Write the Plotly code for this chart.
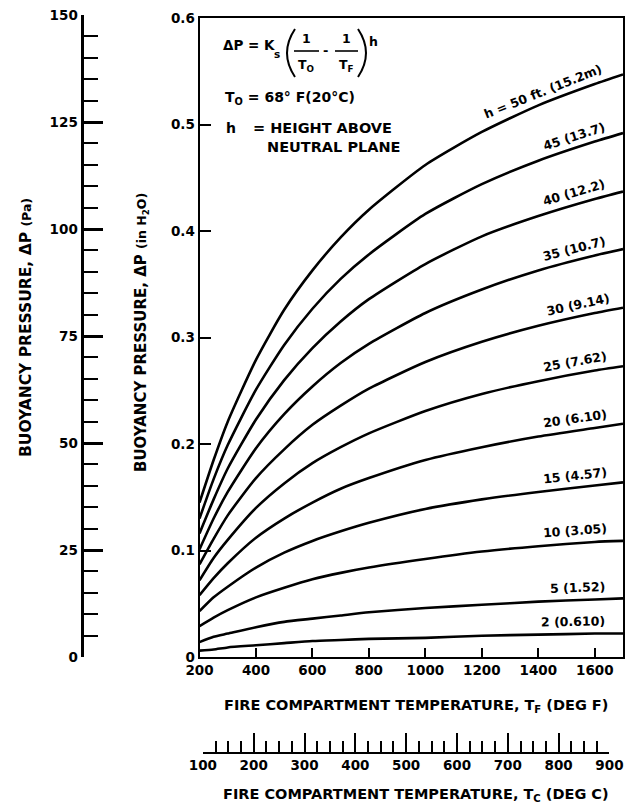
import numpy as np
import plotly.graph_objects as go

W, H = 627, 805

# ---------------- data ----------------
temps_f = [200, 250, 300, 400, 500, 600, 700, 800, 1000, 1200, 1400, 1600, 1700]
heights_ft = [2, 5, 10, 15, 20, 25, 30, 35, 40, 45, 50]
curve_labels = ["2 (0.610)", "5 (1.52)", "10 (3.05)", "15 (4.57)", "20 (6.10)",
                "25 (7.62)", "30 (9.14)", "35 (10.7)", "40 (12.2)", "45 (13.7)",
                "h = 50 ft. (15.2m)"]

dp_h2  = [0.006, 0.007, 0.009, 0.011, 0.013, 0.015, 0.016, 0.017, 0.018, 0.020, 0.021, 0.022, 0.022]
dp_h5  = [0.014, 0.019, 0.022, 0.028, 0.033, 0.036, 0.039, 0.042, 0.046, 0.049, 0.052, 0.054, 0.055]
dp_h10 = [0.029, 0.037, 0.044, 0.056, 0.065, 0.073, 0.079, 0.084, 0.092, 0.099, 0.104, 0.108, 0.109]
dp_h15 = [0.043, 0.056, 0.066, 0.084, 0.098, 0.109, 0.118, 0.126, 0.139, 0.148, 0.155, 0.161, 0.164]
dp_h20 = [0.058, 0.074, 0.088, 0.112, 0.130, 0.145, 0.158, 0.168, 0.185, 0.197, 0.207, 0.215, 0.219]
dp_h25 = [0.072, 0.093, 0.110, 0.140, 0.163, 0.182, 0.197, 0.210, 0.231, 0.247, 0.259, 0.269, 0.273]
dp_h30 = [0.087, 0.111, 0.133, 0.168, 0.195, 0.218, 0.236, 0.252, 0.277, 0.296, 0.311, 0.323, 0.328]
dp_h35 = [0.101, 0.130, 0.155, 0.196, 0.228, 0.254, 0.276, 0.294, 0.323, 0.345, 0.363, 0.377, 0.383]
dp_h40 = [0.116, 0.148, 0.177, 0.223, 0.260, 0.290, 0.315, 0.336, 0.369, 0.395, 0.414, 0.430, 0.437]
dp_h45 = [0.130, 0.167, 0.199, 0.251, 0.293, 0.327, 0.355, 0.378, 0.416, 0.444, 0.466, 0.484, 0.492]
dp_h50 = [0.145, 0.185, 0.221, 0.279, 0.326, 0.363, 0.394, 0.420, 0.462, 0.493, 0.518, 0.538, 0.547]
curves = [dp_h2, dp_h5, dp_h10, dp_h15, dp_h20, dp_h25, dp_h30, dp_h35, dp_h40, dp_h45, dp_h50]

f_ticks = [200, 400, 600, 800, 1000, 1200, 1400, 1600]
in_ticks = [0, 0.1, 0.2, 0.3, 0.4, 0.5, 0.6]
in_ticktext = ["0", "0.1", "0.2", "0.3", "0.4", "0.5", "0.6"]
pa_ticks = [0, 25, 50, 75, 100, 125, 150]
c_ticks = [100, 200, 300, 400, 500, 600, 700, 800, 900]

# label anchor temperatures (deg F) along each curve
label_x = [1523, 1540, 1530, 1530, 1530, 1530, 1540, 1528, 1525, 1525, 1415]

# ---------------- geometry (pixels) ----------------
X0, X1 = 199.5, 623.0
Y_TOP, Y_BOT = 18.0, 657.0
PA_X, PA_TOP, PA_BOT = 81.5, 15.0, 657.0
C_LINE_Y = 753.0
F_MIN, F_MAX = 200, 1700
Y_MAX = 0.6


def px(x):
    return x / W


def py(y):
    return 1 - y / H


def c_to_f(c):
    return c * 9 / 5 + 32


dom_x = [px(X0), px(X1)]
fr = lambda f: (f - F_MIN) / (F_MAX - F_MIN)
c_dom = [dom_x[0] + fr(c_to_f(100)) * (dom_x[1] - dom_x[0]),
         dom_x[0] + fr(c_to_f(900)) * (dom_x[1] - dom_x[0])]

FONT = "DejaVu Sans, Liberation Sans, Arial, sans-serif"
BOLD = dict(family=FONT, color="black", weight="bold")

fig = go.Figure()
for h, vals in zip(heights_ft, curves):
    fig.add_trace(go.Scatter(x=temps_f, y=vals, mode="lines",
                             line=dict(color="black", width=2.6, shape="spline", smoothing=0.6),
                             name=f"h = {h} ft", showlegend=False, hoverinfo="x+y+name"))

# empty traces so the secondary (Pa and deg C) scales get drawn
fig.add_trace(go.Scatter(x=[None], y=[None], xaxis="x", yaxis="y2", showlegend=False,
                         hoverinfo="skip"))
fig.add_trace(go.Scatter(x=[None], y=[None], xaxis="x2", yaxis="y", showlegend=False,
                         hoverinfo="skip"))

annotations = []
xs_per_px = (F_MAX - F_MIN) / (X1 - X0)
ys_per_px = Y_MAX / (Y_BOT - Y_TOP)
for lbl, lx, vals in zip(curve_labels, label_x, curves):
    yv = float(np.interp(lx, temps_f, vals))
    slope = (np.interp(lx + 60, temps_f, vals) - np.interp(lx - 60, temps_f, vals)) / 120.0
    ang = np.degrees(np.arctan(slope * xs_per_px / ys_per_px))
    annotations.append(dict(x=lx, y=yv, xref="x", yref="y", text=lbl, showarrow=False,
                            textangle=-ang * 0.97, yshift=12.5, xanchor="center", yanchor="middle",
                            font=dict(BOLD, size=12.5)))


def ann(x, y, text, size=14, xanchor="left", angle=0):
    annotations.append(dict(x=px(x), y=py(y), xref="paper", yref="paper", text=text,
                            showarrow=False, xanchor=xanchor, yanchor="middle", textangle=angle,
                            font=dict(BOLD, size=size)))


# formula block
ann(221, 45, "ΔP = K", 13.5)
ann(277, 54, "s", 10.5, "center")
ann(306, 39, "1", 12.5, "center")
ann(306, 65, "T<sub>O</sub>", 12.5, "center")
ann(325, 50, "-", 13, "center")
ann(346, 39, "1", 12.5, "center")
ann(346, 65, "T<sub>F</sub>", 12.5, "center")
ann(373, 41, "h", 12.5, "center")
ann(223, 98, "T<sub>O</sub> = 68° F(20°C)", 14)
ann(224, 128, "h", 14)
ann(251, 128, "= HEIGHT ABOVE", 14.5)
ann(265, 147, "NEUTRAL PLANE", 14.5)

# axis titles
ann(416, 706, "FIRE COMPARTMENT TEMPERATURE, T<sub>F</sub> (DEG F)", 14.5, "center")
ann(416, 795, "FIRE COMPARTMENT TEMPERATURE, T<sub>C</sub> (DEG C)", 14.5, "center")
ann(142, 333, "BUOYANCY PRESSURE, ΔP <span style='font-size:12.5px'>(in H<sub>2</sub>O)</span>",
    15, "center", -90)
ann(26, 328, "BUOYANCY PRESSURE, ΔP <span style='font-size:12.5px'>(Pa)</span>", 15.5, "center", -90)

shapes = [
    dict(type="line", xref="paper", yref="paper", x0=px(294), x1=px(319), y0=py(51), y1=py(51),
         line=dict(color="black", width=1.6)),
    dict(type="line", xref="paper", yref="paper", x0=px(335), x1=px(358), y0=py(51), y1=py(51),
         line=dict(color="black", width=1.6)),
    dict(type="path", xref="paper", yref="paper",
         path=f"M {px(295)} {py(29)} Q {px(279)} {py(53)} {px(295)} {py(77)}",
         line=dict(color="black", width=2)),
    dict(type="path", xref="paper", yref="paper",
         path=f"M {px(358)} {py(29)} Q {px(374)} {py(53)} {px(358)} {py(77)}",
         line=dict(color="black", width=2)),
]

fig.update_layout(
    width=W, height=H, margin=dict(l=0, r=0, t=0, b=0, autoexpand=False),
    paper_bgcolor="white", plot_bgcolor="rgba(0,0,0,0)",
    font=dict(family=FONT, color="black"),
    showlegend=False,
    xaxis=dict(domain=dom_x, range=[F_MIN, F_MAX], anchor="y",
               tickmode="array", tickvals=f_ticks, ticks="inside", ticklen=9, tickwidth=2,
               tickcolor="black", showline=True, linecolor="black", linewidth=2, mirror=True,
               showgrid=False, zeroline=False, tickfont=dict(BOLD, size=13.5)),
    yaxis=dict(domain=[py(Y_BOT), py(Y_TOP)], range=[0, Y_MAX], anchor="x",
               tickmode="array", tickvals=in_ticks, ticktext=in_ticktext, ticks="inside",
               ticklen=11, tickwidth=2, tickcolor="black", showline=True, linecolor="black",
               linewidth=2, mirror=True, showgrid=False, zeroline=False,
               tickfont=dict(BOLD, size=13.5)),
    yaxis2=dict(domain=[py(PA_BOT), py(PA_TOP)], range=[0, 150], anchor="free",
                position=px(PA_X), side="left",
                tickmode="array", tickvals=pa_ticks, ticks="inside", ticklen=19, tickwidth=2.5,
                tickcolor="black", showline=True, linecolor="black", linewidth=3,
                showgrid=False, zeroline=False, tickfont=dict(BOLD, size=13.5),
                minor=dict(dtick=5, tick0=0, ticks="inside", ticklen=14, tickwidth=2,
                           tickcolor="black", showgrid=False)),
    xaxis2=dict(domain=c_dom, range=[100, 900], anchor="free", position=py(C_LINE_Y),
                side="bottom", tickmode="array", tickvals=c_ticks, ticks="inside", ticklen=19,
                tickwidth=2, tickcolor="black", showline=True, linecolor="black", linewidth=2,
                showgrid=False, zeroline=False, tickfont=dict(BOLD, size=13.5),
                minor=dict(dtick=25, tick0=100, ticks="inside", ticklen=11, tickwidth=2,
                           tickcolor="black", showgrid=False)),
    annotations=annotations,
    shapes=shapes,
)

fig.write_html("out.html")
